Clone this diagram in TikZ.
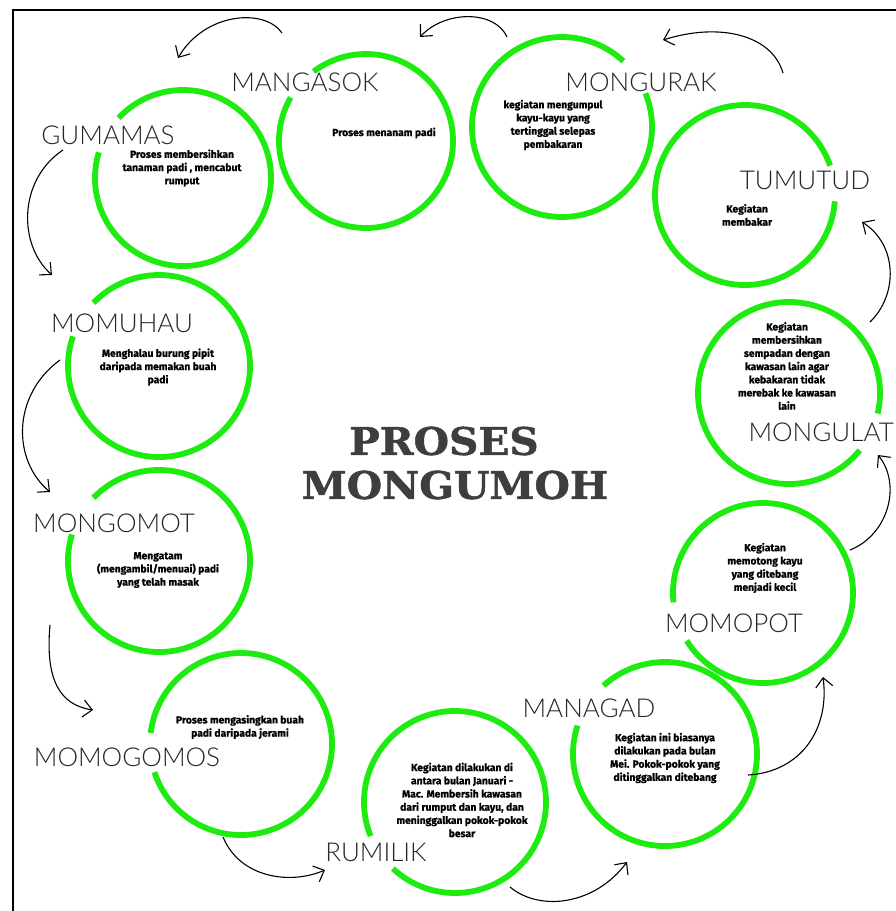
\documentclass[tikz,border=0pt]{standalone}
\usepackage{fontspec}
\usetikzlibrary{arrows.meta}
\IfFontExistsTF{Lato Light}{\newfontfamily\lblfont{Lato Light}}{\newfontfamily\lblfont{Lato}}
\newfontfamily\descfont{Fira Sans}[BoldFeatures={FakeBold=1}]
\newfontfamily\titlefont{DejaVu Serif}[BoldFeatures={FakeBold=1.2}]
\definecolor{ringgreen}{RGB}{30,236,16}
\definecolor{titlegray}{RGB}{62,62,62}
\tikzset{
  ringnode/.style={circle,inner sep=0pt,outer sep=0pt,minimum size=#1},
  ring/.style={draw=ringgreen,line width=5.8pt},
  lbl/.style={font=\lblfont\fontsize{26}{26}\selectfont,inner sep=0pt,text=black!85},
  desc/.style={font=\descfont\bfseries\fontsize{10.3}{13.2}\selectfont,align=center,inner sep=0pt},
  flow/.style={line width=1.1pt,-{Straight Barb[length=9pt,width=17pt,line width=1.1pt]}},
  ttl/.style={font=\titlefont\bfseries\fontsize{38}{40}\selectfont,text=titlegray,inner sep=0pt,xscale=1.07,transform shape}
}
\begin{document}
\begin{tikzpicture}[x=1pt,y=1pt]
\useasboundingbox (0,0) rectangle (896,-911);
\fill[white] (0,0) rectangle (896,-911);
% frame
\draw[line width=2pt] (13,-911) -- (13,-10) -- (896,-10);
% circles (as nodes)
\node[ringnode=174pt] (mangasok) at (366,-141) {};
\node[ringnode=176pt] (gumamas) at (183,-178) {};
\node[ringnode=180pt] (mongurak) at (562,-127) {};
\node[ringnode=180pt] (tumutud) at (745,-195) {};
\node[ringnode=182pt] (momuhau) at (159,-366) {};
\node[ringnode=182pt] (mongomot) at (159,-561) {};
\node[ringnode=182pt] (mongulat) at (789,-393) {};
\node[ringnode=180pt] (momopot) at (763,-593) {};
\node[ringnode=184pt] (managad) at (665,-754) {};
\node[ringnode=182pt] (rumilik) at (455,-802) {};
\node[ringnode=182pt] (momogomos) at (241,-744) {};
% rings with gaps
\draw[ring] (mangasok.150) arc[start angle=150,end angle=487,radius=87pt];
\draw[ring] (gumamas.163) arc[start angle=163,end angle=497,radius=88pt];
\draw[ring] (mongurak.47) arc[start angle=47,end angle=382,radius=90pt];
\draw[ring] (tumutud.19) arc[start angle=19,end angle=356,radius=90pt];
\draw[ring] (momuhau.161) arc[start angle=161,end angle=496,radius=91pt];
\draw[ring] (mongomot.163) arc[start angle=163,end angle=496,radius=91pt];
\draw[ring] (mongulat.-13) arc[start angle=-13,end angle=321,radius=91pt];
\draw[ring] (momopot.212) arc[start angle=212,end angle=546,radius=90pt];
\draw[ring] (managad.162) arc[start angle=162,end angle=492,radius=92pt];
\draw[ring] (rumilik.227) arc[start angle=227,end angle=562,radius=91pt];
\draw[ring] (momogomos.198) arc[start angle=198,end angle=533,radius=91pt];
% labels
\node[lbl] (lmangasok) at (305,-82) {MANGASOK};
\node[lbl] (lgumamas) at (108,-135) {GUMAMAS};
\node[lbl] (lmongurak) at (641,-82) {MONGURAK};
\node[lbl] (ltumutud) at (805,-180) {TUMUTUD};
\node[lbl,anchor=east] (lmongulat) at (894,-432) {MONGULAT};
\node[lbl] (lmomopot) at (734,-623) {MOMOPOT};
\node[lbl] (lmanagad) at (589,-708) {MANAGAD};
\node[lbl] (lrumilik) at (376,-852) {RUMILIK};
\node[lbl] (lmomogomos) at (127,-757) {MOMOGOMOS};
\node[lbl] (lmomuhau) at (122,-323) {MOMUHAU};
\node[lbl] (lmongomot) at (114,-523) {MONGOMOT};
% descriptions
\node[desc] (dgumamas) at (182,-168) {Proses membersihkan\\tanaman padi , mencabut\\rumput};
\node[desc] (dmangasok) at (384,-133) {Proses menanam padi};
\node[desc] (dmongurak) at (553,-125) {kegiatan mengumpul\\kayu-kayu yang\\tertinggal selepas\\pembakaran};
\node[desc] (dtumutud) at (747,-215) {Kegiatan\\membakar};
\node[desc] (dmomuhau) at (158,-367) {Menghalau burung pipit\\daripada memakan buah\\padi};
\node[desc] (dmongomot) at (158,-570) {Mengatam\\(mengambil/menuai) padi\\yang telah masak};
\node[desc] (dmongulat) at (787,-366) {Kegiatan\\membersihkan\\sempadan dengan\\kawasan lain agar\\kebakaran tidak\\merebak ke kawasan\\lain};
\node[desc] (dmomopot) at (765,-568) {Kegiatan\\memotong kayu\\yang ditebang\\menjadi kecil};
\node[desc] (dmanagad) at (665,-758) {Kegiatan ini biasanya\\dilakukan pada bulan\\Mei. Pokok-pokok yang\\ditinggalkan ditebang};
\node[desc] (drumilik) at (462,-800) {Kegiatan dilakukan di\\antara bulan Januari -\\Mac. Membersih kawasan\\dari rumput dan kayu, dan\\meninggalkan pokok-pokok\\besar};
\node[desc] (dmomogomos) at (240,-727) {Proses mengasingkan buah\\padi daripada jerami};
% title
\node[ttl] (t1) at (444,-441) {PROSES};
\node[ttl] (t2) at (455,-485) {MONGUMOH};
% arrow end points
\coordinate (a1s) at (282,-33);  \coordinate (a1e) at (178,-58);
\coordinate (a2s) at (507,-37);  \coordinate (a2e) at (420,-37);
\coordinate (a3s) at (783,-73);  \coordinate (a3e) at (663,-40);
\coordinate (a4s) at (870,-322); \coordinate (a4e) at (862,-222);
\coordinate (a5s) at (850,-550); \coordinate (a5e) at (878,-455);
\coordinate (a6s) at (748,-775); \coordinate (a6e) at (823,-677);
\coordinate (a7s) at (510,-887); \coordinate (a7e) at (627,-862);
\coordinate (a8s) at (223,-837); \coordinate (a8e) at (325,-870);
\coordinate (a9s) at (50,-625);  \coordinate (a9e) at (93,-710);
\coordinate (a10s) at (60,-360); \coordinate (a10e) at (50,-492);
\coordinate (a11s) at (63,-150); \coordinate (a11e) at (52,-275);
% arrows
\draw[flow] (a1s) .. controls (265,-8) and (205,-12) .. (a1e);
\draw[flow] (a2s) .. controls (495,-10) and (445,-10) .. (a2e);
\draw[flow] (a3s) .. controls (772,-35) and (720,-22) .. (a3e);
\draw[flow] (a4s) .. controls (898,-295) and (898,-245) .. (a4e);
\draw[flow] (a5s) .. controls (888,-535) and (902,-485) .. (a5e);
\draw[flow] (a6s) .. controls (800,-772) and (830,-730) .. (a6e);
\draw[flow] (a7s) .. controls (540,-912) and (595,-905) .. (a7e);
\draw[flow] (a8s) .. controls (240,-878) and (290,-885) .. (a8e);
\draw[flow] (a9s) .. controls (45,-680) and (60,-705) .. (a9e);
\draw[flow] (a10s) .. controls (12,-395) and (12,-460) .. (a10e);
\draw[flow] (a11s) .. controls (18,-180) and (18,-245) .. (a11e);
\end{tikzpicture}
\end{document}
